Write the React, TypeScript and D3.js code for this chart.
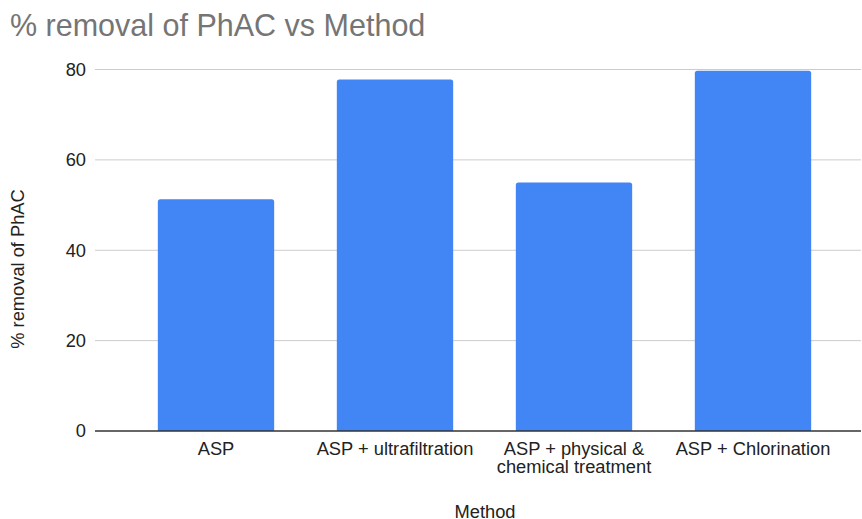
import React from 'react';
import * as d3 from 'd3';

const methods = [
  ['ASP'],
  ['ASP + ultrafiltration'],
  ['ASP + physical &', 'chemical treatment'],
  ['ASP + Chlorination'],
];
const removal = [51.3, 77.8, 55.0, 79.7];
const yTicks = [0, 20, 40, 60, 80];

const W = 862;
const H = 519;
const FONT = 'Liberation Sans, Arial, sans-serif';
const FS = 18.3;

const App = () => {
  const keys = methods.map(m => m.join(' '));

  const x = d3.scaleBand<string>()
    .domain(keys)
    .range([126.5, 842.5])
    .paddingInner(0.35)
    .paddingOuter(0.175);

  const y = d3.scaleLinear()
    .domain([0, 80])
    .range([431, 69.5]);

  const gridLeft = 95;
  const gridRight = 861;
  const r = 2.5;

  const barPath = (x0: number, w: number, y0: number, y1: number) => {
    // rounded top corners only
    return `M${x0},${y1}V${y0 + r}Q${x0},${y0} ${x0 + r},${y0}H${x0 + w - r}Q${x0 + w},${y0} ${x0 + w},${y0 + r}V${y1}Z`;
  };

  return (
    <svg width={W} height={H} style={{ position: 'absolute', left: 0, top: 0, background: '#fff' }}
      fontFamily={FONT}>
      <text x={10} y={36} fontSize={30.5} fill="#757575">% removal of PhAC vs Method</text>

      {yTicks.map(t => (
        <g key={t}>
          {t !== 0 && (
            <line x1={gridLeft} x2={gridRight} y1={y(t)} y2={y(t)} stroke="#cccccc" strokeWidth={1} />
          )}
          <text x={86} y={y(t)} dy="0.35em" textAnchor="end" fontSize={FS} fill="#222">{t}</text>
        </g>
      ))}

      {keys.map((k, i) => {
        const x0 = x(k)!;
        return (
          <path key={k} d={barPath(x0, x.bandwidth(), y(removal[i]), y(0))} fill="#4285f4" />
        );
      })}

      <line x1={gridLeft} x2={gridRight} y1={y(0)} y2={y(0)} stroke="#333" strokeWidth={1.3} />

      {methods.map((lines, i) => {
        const cx = x(keys[i])! + x.bandwidth() / 2;
        return (
          <text key={i} x={cx} y={455} textAnchor="middle" fontSize={FS} fill="#222">
            {lines.map((l, j) => (
              <tspan key={j} x={cx} dy={j === 0 ? 0 : 18}>{l}</tspan>
            ))}
          </text>
        );
      })}

      <text x={485} y={518} textAnchor="middle" fontSize={FS} fill="#222">Method</text>
      <text transform={`translate(24,269) rotate(-90)`} textAnchor="middle" fontSize={FS} fill="#222">
        % removal of PhAC
      </text>
    </svg>
  );
};

export default App;
